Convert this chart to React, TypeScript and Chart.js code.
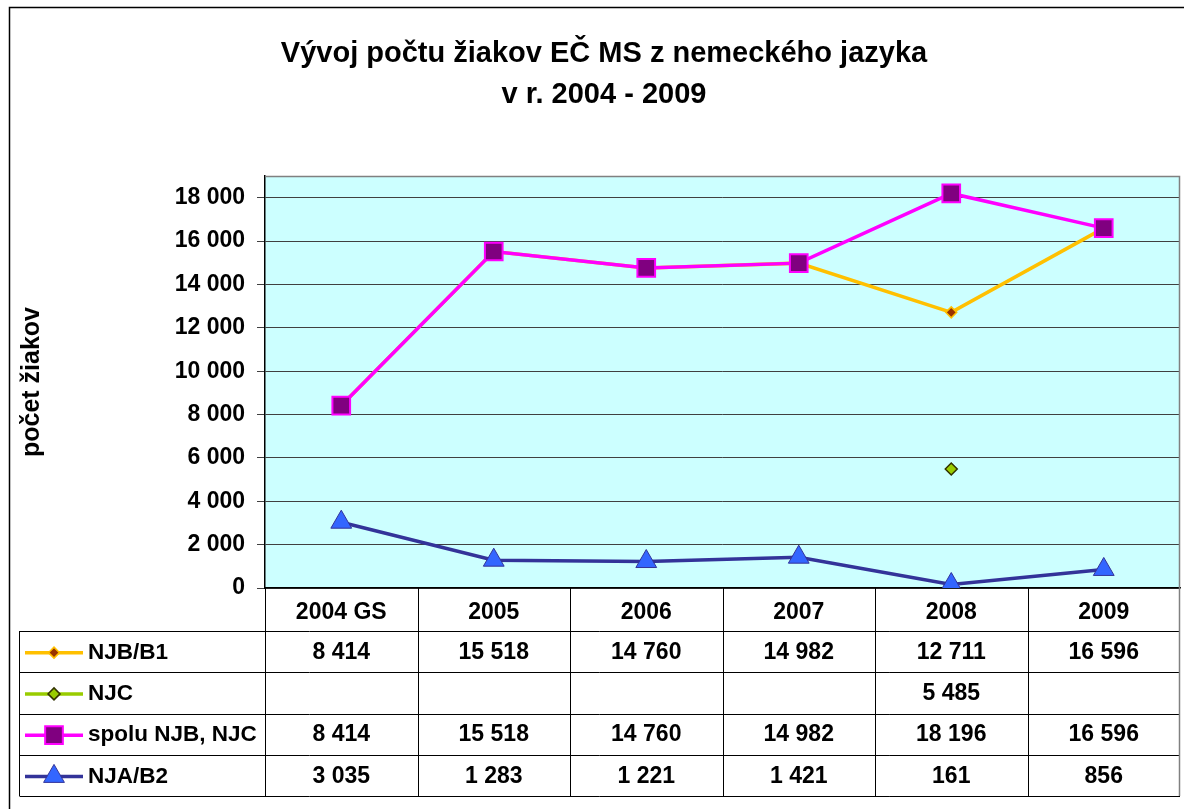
import React, { useEffect, useRef } from 'react';
import { Chart, registerables } from 'chart.js';

Chart.register(...registerables);

const categories = ['2004 GS', '2005', '2006', '2007', '2008', '2009'];
const njbB1 = [8414, 15518, 14760, 14982, 12711, 16596];
const njc = [null, null, null, null, 5485, null];
const spolu = [8414, 15518, 14760, 14982, 18196, 16596];
const njaB2 = [3035, 1283, 1221, 1421, 161, 856];
const seriesNames = ['NJB/B1', 'NJC', 'spolu NJB, NJC', 'NJA/B2'];
const yTickValues = [0, 2000, 4000, 6000, 8000, 10000, 12000, 14000, 16000, 18000];
const yMax = 19000;
const titleLines = ['Vývoj počtu žiakov EČ MS z nemeckého jazyka', 'v r. 2004 - 2009'];
const yTitle = 'počet žiakov';

const FONT = '"Liberation Sans", Arial, sans-serif';
const fmt = (n: number | null) =>
  n === null || n === undefined ? '' : String(n).replace(/\B(?=(\d{3})+(?!\d))/g, ' ');

type Style = {
  line: string;
  shape: 'diamond' | 'square' | 'triangle';
  r: number;
  fill: string;
  stroke: string;
  sw: number;
};
const styles: Style[] = [
  { line: '#FFC000', shape: 'diamond', r: 5.5, fill: '#993300', stroke: '#FFC000', sw: 1.5 },
  { line: '#99CC00', shape: 'diamond', r: 6, fill: '#99CC00', stroke: '#333300', sw: 1.5 },
  { line: '#FF00FF', shape: 'square', r: 12.5, fill: '#800080', stroke: '#FF00FF', sw: 2 },
  { line: '#333399', shape: 'triangle', r: 12, fill: '#3366FF', stroke: '#333399', sw: 1 },
];

function drawMarker(ctx: CanvasRenderingContext2D, s: Style, x: number, y: number) {
  ctx.save();
  ctx.beginPath();
  if (s.shape === 'diamond') {
    ctx.moveTo(x, y - s.r);
    ctx.lineTo(x + s.r, y);
    ctx.lineTo(x, y + s.r);
    ctx.lineTo(x - s.r, y);
    ctx.closePath();
  } else if (s.shape === 'square') {
    const h = s.r * Math.SQRT1_2;
    ctx.rect(x - h, y - h, 2 * h, 2 * h);
  } else {
    const r = s.r;
    ctx.moveTo(x, y - r);
    ctx.lineTo(x + r * Math.sin((2 * Math.PI) / 3), y - r * Math.cos((2 * Math.PI) / 3));
    ctx.lineTo(x - r * Math.sin((2 * Math.PI) / 3), y - r * Math.cos((2 * Math.PI) / 3));
    ctx.closePath();
  }
  ctx.fillStyle = s.fill;
  ctx.fill();
  ctx.lineWidth = s.sw;
  ctx.strokeStyle = s.stroke;
  ctx.stroke();
  ctx.restore();
}

const frame = {
  id: 'frame',
  beforeDraw(chart: any) {
    const { ctx, chartArea: a, width, height } = chart;
    ctx.save();
    ctx.fillStyle = '#ffffff';
    ctx.fillRect(0, 0, width, height);
    ctx.strokeStyle = '#000000';
    ctx.lineWidth = 1.5;
    ctx.beginPath();
    ctx.moveTo(9.5, height + 2);
    ctx.lineTo(9.5, 7.5);
    ctx.lineTo(width + 2, 7.5);
    ctx.stroke();
    ctx.fillStyle = '#CCFFFF';
    ctx.fillRect(a.left, a.top, a.right - a.left, a.bottom - a.top);
    ctx.restore();
  },
  beforeDatasetsDraw(chart: any) {
    const { ctx, chartArea: a } = chart;
    ctx.save();
    ctx.strokeStyle = '#808080';
    ctx.lineWidth = 1.5;
    ctx.beginPath();
    ctx.moveTo(a.left, a.top + 0.5);
    ctx.lineTo(a.right - 0.5, a.top + 0.5);
    ctx.lineTo(a.right - 0.5, a.bottom);
    ctx.stroke();
    ctx.restore();
  },
  afterDraw(chart: any) {
    const { ctx, chartArea: a } = chart;
    const n = categories.length;
    const colW = (a.right - a.left) / n;
    const headTop = a.bottom;
    const headBot = headTop + 43;
    const rowH = 41.25;
    const tableLeft = 19.5;
    const tableBot = headBot + rowH * 4;
    const rows = [njbB1, njc, spolu, njaB2];
    ctx.save();
    ctx.strokeStyle = '#000000';
    ctx.lineWidth = 1;
    ctx.beginPath();
    for (let i = 0; i < n; i++) {
      const x = Math.round(a.left + i * colW) + 0.5;
      ctx.moveTo(x, headTop);
      ctx.lineTo(x, tableBot);
    }
    for (let r = 0; r <= 4; r++) {
      const y = Math.round(headBot + r * rowH) + 0.5;
      ctx.moveTo(tableLeft, y);
      ctx.lineTo(a.right, y);
    }
    ctx.moveTo(tableLeft, headBot);
    ctx.lineTo(tableLeft, tableBot);
    ctx.stroke();
    ctx.strokeStyle = '#808080';
    ctx.lineWidth = 1.5;
    ctx.beginPath();
    ctx.moveTo(a.right - 0.5, headTop);
    ctx.lineTo(a.right - 0.5, tableBot);
    ctx.stroke();

    ctx.textBaseline = 'middle';
    ctx.fillStyle = '#000000';
    rows.forEach((vals, r) => {
      const cy = headBot + r * rowH + rowH / 2 + 1;
      const s = styles[r];
      ctx.strokeStyle = s.line;
      ctx.lineWidth = 3.5;
      ctx.beginPath();
      ctx.moveTo(25, cy);
      ctx.lineTo(83, cy);
      ctx.stroke();
      drawMarker(ctx, s, 54, cy);
      ctx.fillStyle = '#000000';
      ctx.textAlign = 'left';
      ctx.font = `bold 22.5px ${FONT}`;
      ctx.fillText(seriesNames[r], 88, cy);
      ctx.textAlign = 'center';
      ctx.font = `bold 23px ${FONT}`;
      vals.forEach((v, i) => {
        ctx.fillText(fmt(v), a.left + (i + 0.5) * colW, cy);
      });
    });
    ctx.restore();
  },
};

export default function App() {
  const ref = useRef<HTMLCanvasElement>(null);
  useEffect(() => {
    if (!ref.current) return;
    const mk = (label: string, data: (number | null)[], s: Style, order: number) => ({
      label,
      data,
      order,
      borderColor: s.line,
      borderWidth: 3.5,
      backgroundColor: s.fill,
      pointStyle: s.shape === 'diamond' ? 'rectRot' : s.shape === 'square' ? 'rect' : 'triangle',
      pointRadius: s.r,
      pointHoverRadius: s.r,
      pointBackgroundColor: s.fill,
      pointBorderColor: s.stroke,
      pointBorderWidth: s.sw,
      spanGaps: false,
      tension: 0,
    });
    const chart = new Chart(ref.current, {
      type: 'line',
      data: {
        labels: categories,
        datasets: [
          mk(seriesNames[0], njbB1, styles[0], 2),
          mk(seriesNames[1], njc, styles[1], 3),
          mk(seriesNames[2], spolu, styles[2], 0),
          mk(seriesNames[3], njaB2, styles[3], 1),
        ],
      },
      options: {
        responsive: false,
        animation: false,
        devicePixelRatio: 1,
        layout: { autoPadding: false, padding: { left: 28, right: 4, top: 0, bottom: 0 } },
        plugins: {
          legend: { display: false },
          tooltip: { enabled: false },
          title: {
            display: true,
            text: titleLines,
            color: '#000000',
            font: { family: FONT, size: 29, weight: 'bold', lineHeight: 41 / 29 },
            padding: { top: 33.5, bottom: 60.5 },
          },
        },
        scales: {
          x: {
            type: 'category',
            offset: true,
            grid: { display: false, drawTicks: false },
            border: { display: true, color: '#000000', width: 1.5 },
            ticks: {
              color: '#000000',
              font: { family: FONT, size: 23, weight: 'bold' },
              padding: 11,
              maxRotation: 0,
              autoSkip: false,
            },
            afterFit: (scale: any) => {
              scale.height = 221;
              scale.paddingLeft = 0;
              scale.paddingRight = 0;
            },
          },
          y: {
            type: 'linear',
            min: 0,
            max: yMax,
            afterBuildTicks: (scale: any) => {
              scale.ticks = yTickValues.map((v) => ({ value: v }));
            },
            grid: { color: '#404040', lineWidth: 1, tickLength: 8, tickColor: '#404040' },
            border: { display: true, color: '#000000', width: 1.5 },
            ticks: {
              color: '#000000',
              font: { family: FONT, size: 23, weight: 'bold' },
              padding: 12,
              callback: (v: any) => fmt(Number(v)),
            },
            title: {
              display: true,
              text: yTitle,
              color: '#000000',
              font: { family: FONT, size: 25, weight: 'bold', lineHeight: 1 },
              padding: { top: -8, bottom: 0 },
            },
            afterFit: (scale: any) => {
              scale.width = 237;
            },
          },
        },
      },
      plugins: [frame],
    });
    return () => chart.destroy();
  }, []);
  return (
    <div style={{ position: 'absolute', left: 0, top: 0, width: 1184, height: 809 }}>
      <canvas ref={ref} width={1184} height={809} />
    </div>
  );
}
